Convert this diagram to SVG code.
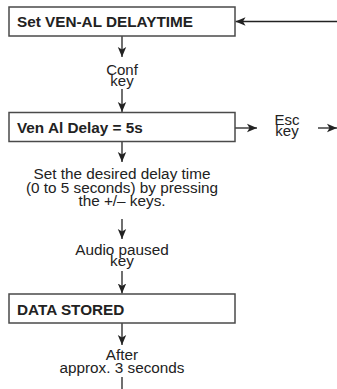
<svg xmlns="http://www.w3.org/2000/svg" width="337" height="389" viewBox="0 0 337 389">
<style>
.box{fill:#fff;stroke:#4a4a4a;stroke-width:1.5}
.hd{font-family:"Liberation Sans",Arial,sans-serif;font-weight:bold;font-size:15.3px;fill:#222}
.lb{font-family:"Liberation Sans",Arial,sans-serif;font-size:15px;fill:#222;text-anchor:middle}
.ln{stroke:#222;stroke-width:1.3;fill:none}
</style>
<defs>
<marker id="ah" viewBox="-10 -5 10 10" refX="0" refY="0" markerWidth="10" markerHeight="10" markerUnits="userSpaceOnUse" orient="auto">
<path d="M0,0 L-10,-4.2 L-7.5,0 L-10,4.2 Z" fill="#222"/>
</marker>
</defs>
<rect width="337" height="389" fill="#fff"/>
<g id="connectors">
<path class="ln" d="M337,21.5 L235.5,21.5" marker-end="url(#ah)"/>
<path class="ln" d="M122,36 L122,57" marker-end="url(#ah)"/>
<path class="ln" d="M122,89 L122,112" marker-end="url(#ah)"/>
<path class="ln" d="M235,128 L257,128" marker-end="url(#ah)"/>
<path class="ln" d="M318,128 L337,128" marker-end="url(#ah)"/>
<path class="ln" d="M122,141.5 L122,162" marker-end="url(#ah)"/>
<path class="ln" d="M122,219 L122,239" marker-end="url(#ah)"/>
<path class="ln" d="M122,271 L122,293.5" marker-end="url(#ah)"/>
<path class="ln" d="M122,323 L122,345" marker-end="url(#ah)"/>
<path class="ln" d="M122,377 L122,389"/>
</g>
<g id="node-set">
<rect class="box" x="9" y="7" width="226" height="29"/>
<text class="hd" x="17" y="27">Set VEN-AL DELAYTIME</text>
</g>
<g id="label-conf">
<text class="lb"><tspan x="122" y="74.5">Conf</tspan><tspan x="122" y="86">key</tspan></text>
</g>
<g id="node-delay">
<rect class="box" x="9" y="112.5" width="226" height="29"/>
<text class="hd" x="17" y="133">Ven Al Delay = 5s</text>
</g>
<g id="label-esc">
<text class="lb"><tspan x="287" y="124.5">Esc</tspan><tspan x="287" y="136">key</tspan></text>
</g>
<g id="label-set">
<text class="lb" style="font-size:15.3px"><tspan x="122" y="179">Set the desired delay time</tspan><tspan x="122" y="192.5">(0 to 5 seconds) by pressing</tspan><tspan x="122" y="205.5">the +/– keys.</tspan></text>
</g>
<g id="label-audio">
<text class="lb" style="font-size:15.3px"><tspan x="122" y="254.5">Audio paused</tspan><tspan x="122" y="266">key</tspan></text>
</g>
<g id="node-stored">
<rect class="box" x="9" y="294" width="226" height="29"/>
<text class="hd" x="17" y="315">DATA STORED</text>
</g>
<g id="label-after">
<text class="lb" style="font-size:15.3px"><tspan x="122" y="360">After</tspan><tspan x="122" y="373">approx. 3 seconds</tspan></text>
</g>
</svg>
